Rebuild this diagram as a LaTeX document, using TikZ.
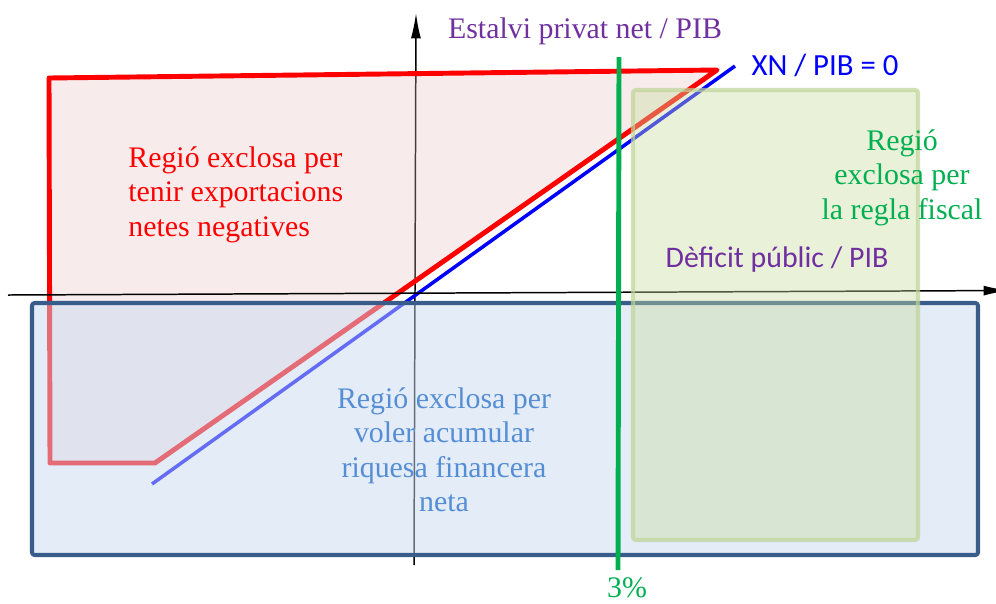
\documentclass[tikz,border=0pt]{standalone}
\usepackage{fontspec}
\setmainfont{Liberation Serif}
\newfontfamily\calibri{Carlito}
\usetikzlibrary{arrows.meta}
\definecolor{xnblue}{RGB}{0,0,255}
\definecolor{fiscalgreen}{RGB}{0,176,80}
\definecolor{labelpurple}{RGB}{112,48,160}
\definecolor{wealthblue}{RGB}{85,142,213}
\definecolor{boxborder}{RGB}{56,93,138}
\definecolor{boxfill}{RGB}{201,217,239}
\definecolor{pinkfill}{RGB}{232,190,190}
\definecolor{rulefill}{RGB}{200,220,160}
\definecolor{ruleborder}{RGB}{190,212,150}
\newcommand{\regiontext}[1]{\fontsize{17}{19.6}\selectfont #1}
\tikzset{
    axis/.style={line width=0.85pt, -{Latex[length=14.5pt, width=5.7pt]}},
    regiontxt/.style={inner sep=0pt, font=\regiontext}
}

\begin{document}
\begin{tikzpicture}[x=0.02cm, y=-0.02cm, line join=round]
        \useasboundingbox (0,0) rectangle (996,603);
        \coordinate (ybot) at (414,565);
        \coordinate (ytop) at (416,13);
        \coordinate (xleft) at (8,295);
        \coordinate (xright) at (1009,290.5);
        \draw[axis] (ybot) -- (ytop);
        \draw[red, line width=2.8pt, fill=pinkfill, fill opacity=0.3]
            (49,78) -- (717,70) -- (155,463) -- (50,463) -- cycle;
        \draw[xnblue, line width=2pt] (152,484) -- (735,66);
        \draw[axis] (xleft) -- (xright);
        \draw[boxborder, line width=2.3pt, rounded corners=1.5pt, fill=boxfill, fill opacity=0.5]
            (32,303) rectangle (978,555);
        \draw[ruleborder, draw opacity=0.7, line width=2.3pt, rounded corners=1.5pt, fill=rulefill, fill opacity=0.4]
            (633,90) rectangle (918,540);
        \draw[fiscalgreen, line width=2.8pt] (619,57) -- (618,570);
        \node[regiontxt, red, anchor=north west, align=left] (tradetext) at (128,146)
            {Regió exclosa per\\tenir exportacions\\netes negatives};
        \node[regiontxt, fiscalgreen, anchor=north, align=center] (fiscaltext) at (902,129)
            {Regió\\exclosa per\\la regla fiscal};
        \node[regiontxt, wealthblue, anchor=north, align=center] (wealthtext) at (444,387)
            {Regió exclosa per\\voler acumular\\riquesa financera\\neta};
        \node[regiontxt, labelpurple, anchor=base] (ylabel) at (585,38) {Estalvi privat net / PIB};
        \node[regiontxt, labelpurple, anchor=base, font=\calibri\fontsize{17}{20}\selectfont] (xlabel) at (777,267) {Dèficit públic / PIB};
        \node[regiontxt, xnblue, anchor=base, font=\calibri\fontsize{17.5}{20}\selectfont] (xnlabel) at (825,75) {XN / PIB = 0};
        \node[regiontxt, fiscalgreen, anchor=base] (limit) at (627,597) {3\%};
    \end{tikzpicture}
\end{document}
